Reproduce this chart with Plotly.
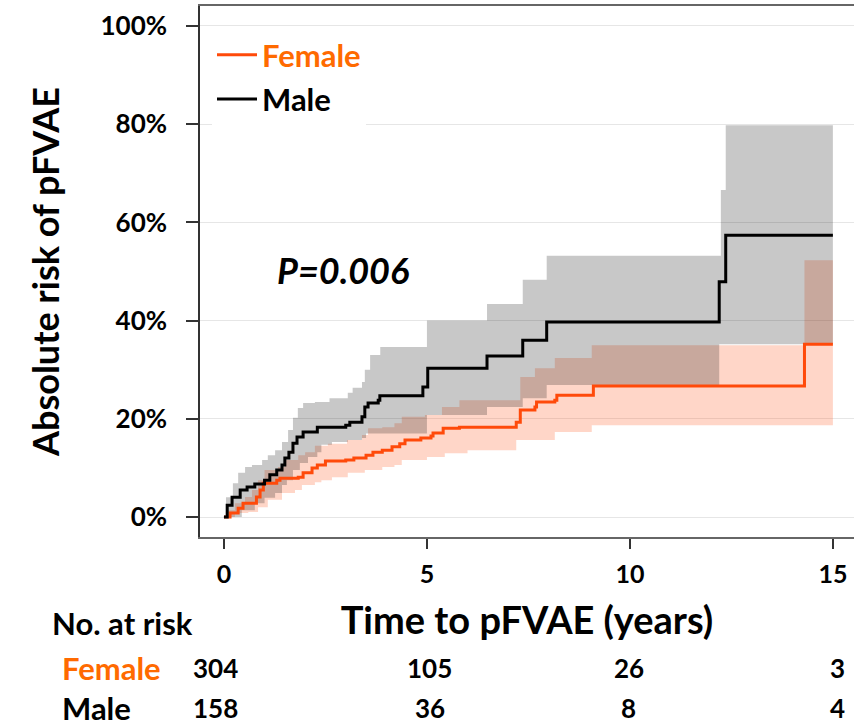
import plotly.graph_objects as go

# ---------------- data ----------------
male_t = [0, 0.08, 0.2, 0.4, 0.57, 0.76, 1.0, 1.13, 1.3, 1.43, 1.5, 1.6, 1.7, 1.8, 1.95, 2.3, 3.0, 3.1,
          3.4, 3.47, 3.55, 3.8, 3.84, 4.9, 5.02, 6.48, 7.36, 7.95, 12.2, 12.36, 15.0]
male_risk = [0, 2.4, 4.0, 5.5, 6.1, 6.7, 7.5, 8.6, 9.6, 10.6, 12.0, 13.2, 15.0, 16.3, 17.3, 18.3, 18.7, 19.3,
             20.4, 22.4, 23.2, 23.8, 24.7, 26.5, 30.3, 32.8, 36.0, 39.7, 47.9, 57.4, 57.4]

female_t = [0, 0.15, 0.35, 0.47, 0.8, 0.89, 0.97, 1.3, 1.38, 1.83, 1.95, 2.17, 2.3, 2.5, 3.0, 3.2, 3.5, 3.67,
            3.9, 4.14, 4.33, 4.46, 4.85, 5.1, 5.15, 5.4, 5.8, 7.2, 7.3, 7.66, 7.7, 8.15, 8.2, 9.1, 14.3, 15.0]
female_risk = [0, 0.8, 1.8, 2.8, 4.1, 5.5, 6.9, 7.5, 7.9, 8.1, 9.0, 10.0, 10.6, 11.4, 11.6, 12.0, 12.6, 13.2,
               13.6, 14.3, 14.9, 15.7, 16.1, 16.5, 17.1, 18.1, 18.3, 19.3, 21.8, 22.4, 23.4, 23.8, 24.8, 26.7,
               35.2, 35.2]

male_upper_t = [0, 0.05, 0.22, 0.35, 0.52, 0.69, 0.94, 1.08, 1.26, 1.43, 1.58, 1.7, 1.82, 1.95, 2.24, 2.6,
                3.05, 3.17, 3.4, 3.47, 3.6, 3.85, 5.0, 6.48, 7.36, 7.95, 12.24, 12.36, 15.0]
male_upper = [0, 4.0, 6.9, 9.0, 10.2, 10.6, 11.6, 12.6, 13.6, 15.3, 17.7, 20.2, 22.2, 23.2, 23.4, 24.2,
              25.3, 26.3, 27.5, 30.0, 33.0, 34.6, 40.0, 43.4, 48.3, 53.2, 66.6, 79.8, 79.8]

male_lower_t = [0, 0.44, 0.76, 1.0, 1.26, 1.43, 1.55, 1.7, 1.87, 2.07, 2.3, 2.4, 2.66, 3.05, 3.4, 3.5,
                5.0, 6.48, 7.36, 7.95, 12.2, 15.0]
male_lower = [0, 1.4, 2.8, 3.9, 4.9, 6.5, 7.5, 9.6, 11.0, 12.2, 13.2, 14.7, 15.3, 15.7, 16.1, 17.0,
              20.8, 22.4, 24.2, 26.9, 35.2, 35.2]

female_upper_t = [0, 0.05, 0.27, 0.52, 0.69, 0.84, 1.0, 1.33, 1.5, 1.83, 2.0, 2.24, 2.56, 3.03, 3.4, 3.55,
                  3.9, 4.2, 4.38, 4.95, 5.37, 5.8, 7.3, 7.66, 8.15, 9.06, 14.3, 15.0]
female_upper = [0, 1.4, 2.8, 4.1, 5.5, 7.5, 9.6, 10.2, 11.6, 12.6, 13.2, 14.5, 14.9, 15.7, 16.7, 18.1,
                18.3, 19.1, 20.4, 20.8, 22.4, 23.8, 28.5, 30.3, 32.4, 35.0, 52.3, 52.3]

female_lower_t = [0, 0.27, 0.6, 0.84, 1.08, 1.43, 1.75, 1.92, 2.24, 2.4, 2.66, 3.05, 3.47, 3.9, 4.2, 4.38,
                  5.0, 5.44, 6.0, 7.2, 8.15, 9.06, 15.0]
female_lower = [0, 0.8, 1.0, 2.0, 3.5, 4.9, 5.5, 6.5, 7.1, 7.5, 8.1, 9.0, 9.6, 10.2, 10.6, 11.6,
                12.2, 13.0, 13.6, 15.7, 17.3, 18.7, 18.7]

risk_times = [0, 5, 10, 15]
female_at_risk = [304, 105, 26, 3]
male_at_risk = [158, 36, 8, 4]
x_ticks = [0, 5, 10, 15]
y_ticks = [0, 20, 40, 60, 80, 100]
y_tick_labels = ["0%", "20%", "40%", "60%", "80%", "100%"]
p_text = "P=0.006"

# ---------------- style ----------------
FONT = "Lato"
ORANGE_LINE = "#ff4a0a"
ORANGE_TEXT = "#ff6a00"
FEMALE_FILL = "rgba(255,80,20,0.235)"
MALE_FILL = "rgba(0,0,0,0.216)"

W, H = 854, 728
ML, MR, MT, MB = 200, 0, 6, 191
PW, PH = W - ML - MR, H - MT - MB


def px_x(px):
    return (px - ML) / PW


def px_y(py):
    return (H - MB - py) / PH


fig = go.Figure()

# female band
fig.add_trace(go.Scatter(x=female_lower_t, y=female_lower, mode="lines", line=dict(width=0, shape="hv"),
                         showlegend=False, hoverinfo="skip"))
fig.add_trace(go.Scatter(x=female_upper_t, y=female_upper, mode="lines", line=dict(width=0, shape="hv"),
                         fill="tonexty", fillcolor=FEMALE_FILL, showlegend=False, hoverinfo="skip"))
# male band
fig.add_trace(go.Scatter(x=male_lower_t, y=male_lower, mode="lines", line=dict(width=0, shape="hv"),
                         showlegend=False, hoverinfo="skip"))
fig.add_trace(go.Scatter(x=male_upper_t, y=male_upper, mode="lines", line=dict(width=0, shape="hv"),
                         fill="tonexty", fillcolor=MALE_FILL, showlegend=False, hoverinfo="skip"))
# lines
fig.add_trace(go.Scatter(x=female_t, y=female_risk, mode="lines", line=dict(color=ORANGE_LINE, width=3, shape="hv"),
                         name=f"<span style='color:{ORANGE_TEXT}'>Female</span>", legendgroup="f"))
fig.add_trace(go.Scatter(x=male_t, y=male_risk, mode="lines", line=dict(color="#000000", width=3, shape="hv"),
                         name="Male", legendgroup="m"))

bold = dict(family=FONT, weight="bold", color="#000000")

fig.update_layout(
    width=W, height=H,
    margin=dict(l=ML, r=MR, t=MT, b=MB),
    paper_bgcolor="white", plot_bgcolor="white",
    showlegend=True,
    legend=dict(x=px_x(212), y=px_y(28), xanchor="left", yanchor="top", bgcolor="white",
                font=dict(family=FONT, size=31, weight="bold", color="#000000"),
                tracegroupgap=1, traceorder="grouped", itemwidth=40, borderwidth=0),
    xaxis=dict(range=[-0.59, 15.52], tickvals=x_ticks, ticks="outside", ticklen=10, tickwidth=1.5,
               tickcolor="#333333", showline=True, linecolor="#666666", linewidth=2, mirror=True,
               showgrid=False, zeroline=False, tickfont=dict(size=25, **bold), ticklabelstandoff=4,
               title=dict(text="Time to pFVAE (years)", font=dict(size=38, **bold), standoff=20)),
    yaxis=dict(range=[-4.07, 104.07], tickvals=y_ticks, ticktext=y_tick_labels, ticks="outside", ticklen=12,
               tickwidth=1.5, tickcolor="#333333", showline=True, linecolor="#333333", linewidth=1.5,
               showgrid=True, gridcolor="#e6e6e6", gridwidth=1, zeroline=False,
               tickfont=dict(size=26, **bold), ticklabelstandoff=14),
)

ann = []
ann.append(dict(text="Absolute risk of pFVAE", xref="paper", yref="paper", x=px_x(45), y=px_y(272),
                textangle=-90, showarrow=False, font=dict(size=36, **bold), xanchor="center", yanchor="middle"))
ann.append(dict(text=p_text, xref="x", yref="y", x=1.25, y=50.3, showarrow=False, xanchor="left",
                yanchor="middle", font=dict(size=36, style="italic", **bold)))
ann.append(dict(text="No. at risk", xref="paper", yref="paper", x=px_x(50), y=px_y(623), showarrow=False,
                xanchor="left", yanchor="middle", font=dict(size=31, **bold)))
ann.append(dict(text="Female", xref="paper", yref="paper", x=px_x(60), y=px_y(668), showarrow=False,
                xanchor="left", yanchor="middle", font=dict(size=31, family=FONT, weight="bold", color=ORANGE_TEXT)))
ann.append(dict(text="Male", xref="paper", yref="paper", x=px_x(60), y=px_y(708), showarrow=False,
                xanchor="left", yanchor="middle", font=dict(size=31, **bold)))
shifts = [-8, 3, -1, 5]
for t, fv, mv, s in zip(risk_times, female_at_risk, male_at_risk, shifts):
    ann.append(dict(text=str(fv), xref="x", yref="paper", x=t, y=px_y(668), xshift=s, showarrow=False,
                    xanchor="center", yanchor="middle", font=dict(size=26, **bold)))
    ann.append(dict(text=str(mv), xref="x", yref="paper", x=t, y=px_y(708), xshift=s, showarrow=False,
                    xanchor="center", yanchor="middle", font=dict(size=26, **bold)))
fig.update_layout(annotations=ann)

fig.write_html("out.html", config={"displayModeBar": False},
               post_script="document.body.style.margin='0px';")
